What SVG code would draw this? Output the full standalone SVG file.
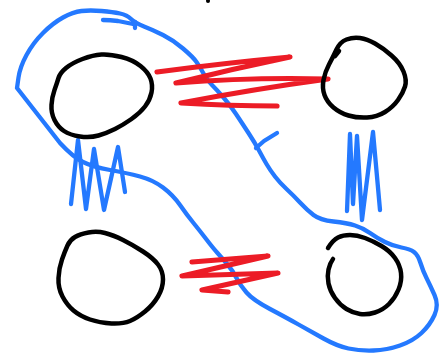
<svg xmlns="http://www.w3.org/2000/svg" width="439" height="356" viewBox="0 0 439 356">
<style>
.node{fill:none;stroke:#000;stroke-width:4.5;stroke-linecap:round;stroke-linejoin:round}
.red{fill:none;stroke:#ec1c26;stroke-width:5.2;stroke-linecap:round;stroke-linejoin:round}
.blue{fill:none;stroke:#2479ff;stroke-width:4.3;stroke-linecap:round;stroke-linejoin:round}
</style>
<rect width="439" height="356" fill="#fff"/>
<circle cx="208" cy="1" r="2" fill="#000"/>
<g id="loop">
<path class="blue" d="M131,19 Q127,15 120,13.5 Q113,12 101.5,11 Q90,10 81.5,11 Q73,12 63,17.5 Q53,23 43,33 Q33,43 26.5,55 Q20,67 18.5,77.5 L17,88 L60,143 Q73,157 83,162 Q93,167 110,170 Q127,173 140,176.5 Q153,180 163,187.5 Q173,195 180,205 Q187,215 193.5,223 Q200,231 206.5,239.5 Q213,248 217.5,253 Q222,258 227.5,264.5 Q233,271 236.5,278 Q240,285 246.5,292.5 Q253,300 270,309 Q287,318 298.5,324.5 Q310,331 323.5,338.5 Q337,346 348.5,348.5 Q360,351 373.5,350.5 Q387,350 400,345.5 Q413,341 421.5,333 Q430,325 434.5,315 Q439,305 434.5,295 Q430,285 426.5,278 Q423,271 420.5,263 Q418,255 414,252 Q410,249 401.5,247.5 Q393,246 385,242 Q377,238 370,233 Q363,228 355,225.5 Q347,223 333.5,221.5 Q320,220 313.5,215 Q307,210 300,202.5 Q293,195 286.5,189 Q280,183 275,176.5 Q270,170 266.5,164 Q263,158 259,150.5 Q255,143 248.5,133 Q242,123 236,114 Q230,105 223.5,97.5 Q217,90 212,85 Q207,80 203.5,73.5 Q200,67 196.5,62 Q193,57 183,48.5 Q173,40 163,35 Q153,30 144,26.5 Q135,23 131,19"/>
<path class="blue" d="M103,20 Q110,20 118,21 L133,24"/>
<path class="blue" d="M135,22 L135,28"/>
<path class="blue" d="M256,148 L264,141 L277,133"/>
</g>
<g id="connectors">
<path id="e-top" class="red" d="M157,72 Q225,63 290,57 Q232,69 176,83 Q252,77 328,79 Q254,89 181,103 Q230,106 277,106"/>
<path id="e-bottom" class="red" d="M192,262 L268,256 L182,276 L278,273 L202,290 L228,292"/>
<path id="e-left" class="blue" d="M71,204 L78,140 L86,209 L94,149 L104,210 L118,147 L125,192"/>
<path id="e-right" class="blue" d="M347,211 L350,134 L353,204 L357,136 L362,220 L373,132 L380,210"/>
</g>
<g id="node-tl">
<path class="node" d="M66,68 Q72,63 82.5,59 Q93,55 101.5,54.5 Q110,54 121.5,57 Q133,60 140.5,66 Q148,72 150.5,78.5 Q153,85 151.5,92.5 Q150,100 145,106.5 Q140,113 131.5,119 Q123,125 115,129 Q107,133 98.5,135.5 Q90,138 80,136.5 Q70,135 64,131 Q58,127 54.5,120 Q51,113 51.5,105 Q52,97 54.5,90 Q57,83 58.5,78 Q60,73 66,68 Z"/>
</g>
<g id="node-tr">
<path class="node" d="M346.5,39.5 Q353,37 360,38 Q367,39 375,43.5 Q383,48 391.5,55.5 Q400,63 403.5,71.5 Q407,80 405,86.5 Q403,93 398,100 Q393,107 385,112 Q377,117 367,117.5 Q357,118 348.5,115.5 Q340,113 333.5,107.5 Q327,102 324.5,95 Q322,88 323.5,80 Q325,72 329,64.5 Q333,57 336.5,49.5 Q340,42 346.5,39.5 Z"/>
<path class="node" d="M339,51 L335,56"/>
</g>
<g id="node-bl">
<path class="node" d="M75,237 Q80,234 88.5,232.5 Q97,231 105,233 Q113,235 123,240 Q133,245 143,251.5 Q153,258 158,264.5 Q163,271 163,279.5 Q163,288 158,296.5 Q153,305 145,311.5 Q137,318 130,321 Q123,324 111.5,323.5 Q100,323 90,319.5 Q80,316 73.5,310.5 Q67,305 62.5,296.5 Q58,288 58.5,278 Q59,268 62,259.5 Q65,251 67.5,245.5 Q70,240 75,237 Z"/>
</g>
<g id="node-br">
<path class="node" d="M328,248 Q333,240 338,237.5 Q343,235 350,235 Q357,235 365,238 Q373,241 381.5,246 Q390,251 395,258 Q400,265 401,273 Q402,281 398.5,289.5 Q395,298 389,304 Q383,310 375,312.5 Q367,315 360,314 Q353,313 346.5,309 Q340,305 335,298 Q330,291 328.5,283.5 Q327,276 328.5,269.5 Q330,263 333,259"/>
</g>
</svg>
